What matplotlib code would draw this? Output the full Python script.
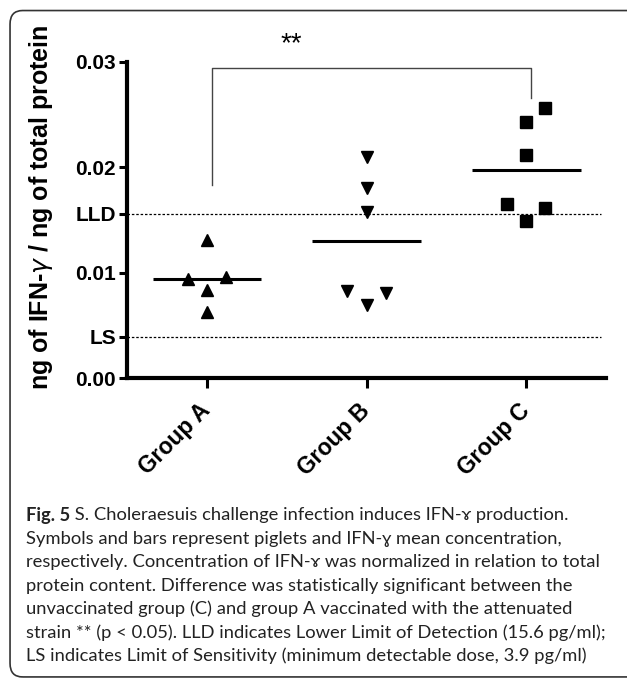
import numpy as np
import matplotlib
matplotlib.use('Agg')
import matplotlib.pyplot as plt
from matplotlib.patches import FancyBboxPatch

# data (ng IFN-gamma / ng total protein)
groups = ['Group A', 'Group B', 'Group C']
group_a = [0.0131, 0.0094, 0.0096, 0.0084, 0.0063]
group_b = [0.0210, 0.0180, 0.0158, 0.0083, 0.0081, 0.0069]
group_c = [0.0256, 0.0243, 0.0212, 0.0165, 0.0161, 0.0149]
LLD = 0.0156
LS = 0.0039

# horizontal scatter of the symbols inside each column
shift_a = [0, -0.12, 0.12, 0, 0]
shift_b = [0, 0, 0, -0.12, 0.12, 0]
shift_c = [0.12, 0, 0, -0.12, 0.12, 0]

ytick_vals = [0.0, LS, 0.01, LLD, 0.02, 0.03]
ytick_labels = ['0.00', 'LS', '0.01', 'LLD', '0.02', '0.03']

caption_rest = [
    ' S. Choleraesuis challenge infection induces IFN-\u0264 production.',
    'Symbols and bars represent piglets and IFN-\u0263 mean concentration,',
    'respectively. Concentration of IFN-\u0264 was normalized in relation to total',
    'protein content. Difference was statistically significant between the',
    'unvaccinated group (C) and group A vaccinated with the attenuated',
    'strain ** (p < 0.05). LLD indicates Lower Limit of Detection (15.6 pg/ml);',
    'LS indicates Limit of Sensitivity (minimum detectable dose, 3.9 pg/ml)',
]

plt.rcParams['font.family'] = ['Liberation Sans', 'DejaVu Sans']

fig = plt.figure(figsize=(6.27, 6.8), dpi=100)
ax = fig.add_axes([0.2026, 0.444, 0.764, 0.465])

series = [(group_a, shift_a, '^', 8.6), (group_b, shift_b, 'v', 8.6), (group_c, shift_c, 's', 8.0)]
for i, (vals, shifts, mk, ms) in enumerate(series):
    xs = [i + d for d in shifts]
    ax.plot(xs, vals, linestyle='none', marker=mk, markersize=ms, color='black', zorder=3)
    m = np.mean(vals)
    ax.plot([i - 0.34, i + 0.34], [m, m], color='black', lw=2.2, solid_capstyle='butt', zorder=4)

ax.axhline(LLD, xmin=0, xmax=0.99, color='black', lw=0.9, linestyle=(0, (2, 1.5)))
ax.axhline(LS, xmin=0, xmax=0.99, color='black', lw=0.9, linestyle=(0, (2, 1.5)))

# significance bracket between A and C
ax.plot([0.03, 0.03, 2.03, 2.03], [0.0183, 0.0294, 0.0294, 0.0266],
        color='#444444', lw=1.0, clip_on=False)
ax.text(0.53, 0.0317, '**', ha='center', va='center', fontsize=20, clip_on=False)

ax.set_xlim(-0.5, 2.5)
ax.set_ylim(0, 0.03)
ax.set_yticks(ytick_vals)
ax.set_yticklabels(ytick_labels, fontsize=15, fontweight='bold')
ax.set_xticks([0, 1, 2])
ax.set_xticklabels(groups, rotation=45, ha='right', va='center', rotation_mode='anchor',
                   fontsize=16.5, fontweight='bold')
for s in ['top', 'right']:
    ax.spines[s].set_visible(False)
for s in ['left', 'bottom']:
    ax.spines[s].set_linewidth(3)
ax.tick_params(axis='y', length=6, width=2.2, pad=2)
ax.tick_params(axis='x', length=7, width=2.2, pad=14)

fig.text(41 / 627, 1 - 207 / 680, 'ng of IFN-$\\gamma$ / ng of total protein',
         rotation=90, ha='center', va='center', fontsize=18, fontweight='bold')

# caption frame
frame = FancyBboxPatch((0.016, 0.0045), 1.2, 0.98, transform=fig.transFigure,
                       boxstyle='round,pad=0,rounding_size=0.02',
                       fc='none', ec='#333333', lw=1.2, clip_on=False)
fig.patches.append(frame)

cap_font = ['Lato', 'DejaVu Sans']
renderer = fig.canvas.get_renderer()
probe = fig.text(0, 0, caption_rest[5], fontsize=12, family=cap_font)
w = probe.get_window_extent(renderer).width
probe.remove()
cap_size = 12 * 576 / w

x0 = 26 / 627
line_y = [515, 539, 562, 586, 609, 633, 656]
head = fig.text(x0, 1 - line_y[0] / 680, 'Fig. 5', fontsize=cap_size, fontweight='bold',
                family=cap_font, color='#222222', va='center')
hw = head.get_window_extent(renderer).width / 627
fig.text(x0 + hw, 1 - line_y[0] / 680, caption_rest[0], fontsize=cap_size,
         family=cap_font, color='#222222', va='center')
for k in range(1, 7):
    fig.text(x0, 1 - line_y[k] / 680, caption_rest[k], fontsize=cap_size,
             family=cap_font, color='#222222', va='center')

fig.savefig('out.png', dpi=100)
